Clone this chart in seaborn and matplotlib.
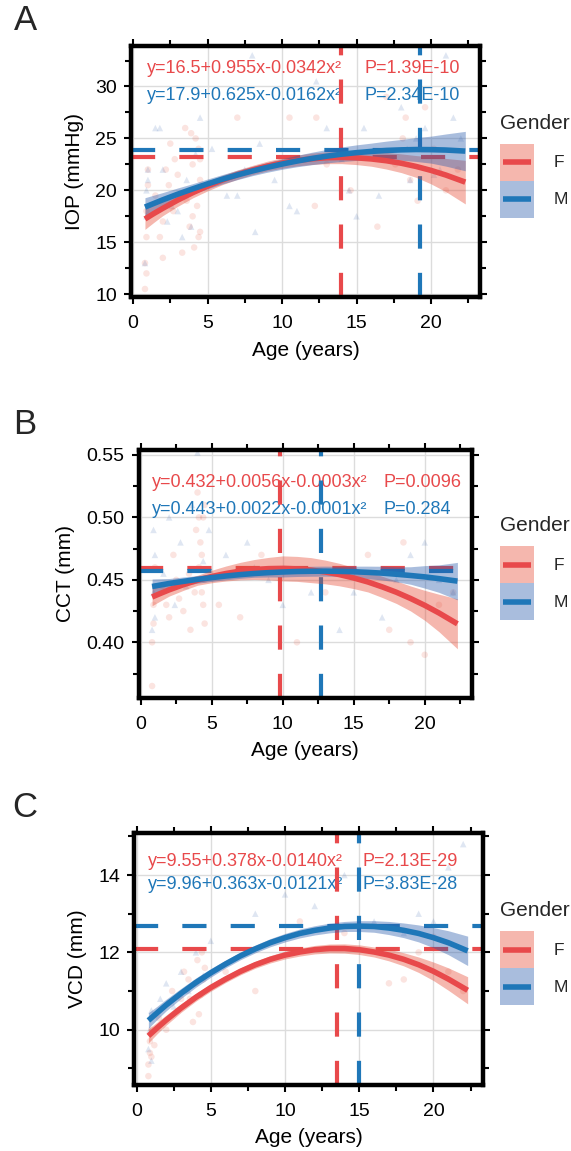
import numpy as np
import pandas as pd
import matplotlib
matplotlib.use("Agg")
import matplotlib.pyplot as plt
from matplotlib.ticker import AutoMinorLocator, MultipleLocator, FormatStrFormatter
from matplotlib.patches import Patch, Rectangle
from matplotlib.lines import Line2D
from matplotlib.legend_handler import HandlerBase
import seaborn as sns

# ---- data ----
genders = ["F", "M"]

# panel A: IOP
A_F_age = [0.8, 0.8, 0.9, 0.9, 1.0, 1.0, 0.9, 1.5, 1.8, 2.0, 2.2, 2.5, 2.7, 3.0, 3.2, 3.5, 3.8,
           4.0, 4.1, 4.2, 4.3, 4.4, 4.5, 4.5, 2.0, 2.4, 2.8, 3.3, 3.6, 4.0, 4.2, 4.4, 4.5, 3.9,
           7.0, 9.5, 10.5, 12.3, 12.2, 13.0, 14.6,
           16.4, 17.0, 17.6, 18.1, 18.3, 18.6, 19.1, 19.6, 20.2, 21.0, 21.8]
A_F_iop = [10.5, 13.0, 15.5, 18.0, 20.5, 22.0, 12.0, 19.5, 15.5, 13.5, 22.0, 24.5, 18.0, 21.5, 19.5, 26.0, 16.5,
           22.5, 14.5, 25.0, 18.5, 15.5, 21.0, 23.0, 17.0, 20.5, 23.0, 14.0, 19.0, 17.5, 20.0, 24.0, 16.0, 25.5,
           27.0, 22.5, 27.0, 27.0, 18.5, 22.5, 20.0,
           16.5, 29.0, 22.5, 25.0, 27.0, 21.0, 19.0, 28.0, 24.0, 20.0, 22.0]
A_M_age = [0.8, 0.9, 0.9, 1.0, 1.0, 1.5, 1.8, 2.0, 2.3, 2.6, 3.0, 3.3, 3.6, 3.9, 4.2, 4.5,
           5.3, 5.8, 6.3, 7.0, 7.5, 8.0, 8.2, 8.5, 9.5, 10.5, 11.0,
           12.3, 13.0, 14.0, 14.5, 15.0, 15.5, 16.5, 17.5, 18.0, 18.4, 18.6, 19.0, 19.6, 20.2, 20.6, 21.0, 21.5, 22.0]
A_M_iop = [13.0, 17.5, 20.0, 22.0, 21.0, 26.0, 26.0, 22.0, 17.0, 18.5, 18.0, 15.5, 21.0, 16.5, 23.5, 27.0,
           24.0, 21.0, 19.5, 19.5, 22.0, 33.0, 16.0, 24.5, 21.0, 18.5, 18.0,
           30.5, 26.0, 23.0, 20.0, 17.5, 26.0, 19.5, 22.8, 28.0, 24.0, 21.0, 25.0, 26.0, 21.5, 22.0, 33.0, 27.0, 25.0]

# panel B: CCT
B_F_age = [0.8, 0.8, 0.9, 0.9, 1.0, 1.0, 1.5, 2.0, 2.3, 2.7, 3.0, 3.4, 3.8, 4.0, 4.1, 4.2, 4.3, 4.4, 4.5, 4.5,
           3.9, 4.1, 4.3, 4.4, 4.5, 3.5, 2.5, 1.8,
           5.5, 7.0, 8.5, 11.0, 13.0, 14.0, 16.0, 17.5, 18.5, 19.0, 20.0, 21.0, 22.0]
B_F_cct = [0.365, 0.400, 0.415, 0.430, 0.445, 0.460, 0.445, 0.420, 0.470, 0.435, 0.425, 0.455, 0.440,
           0.520, 0.500, 0.480, 0.470, 0.430, 0.415, 0.510,
           0.490, 0.460, 0.440, 0.500, 0.450, 0.410, 0.450, 0.430,
           0.430, 0.420, 0.470, 0.400, 0.440, 0.455, 0.470, 0.410, 0.480, 0.400, 0.390, 0.430, 0.440]
B_M_age = [0.8, 0.9, 0.9, 1.0, 1.0, 1.6, 2.0, 2.4, 2.8, 3.2, 3.6, 4.0, 4.4, 4.8,
           6.0, 7.5, 8.0, 9.0, 10.0, 12.0, 14.0, 15.0, 17.0, 18.0, 19.0, 20.0, 21.0, 22.0]
B_M_cct = [0.410, 0.440, 0.490, 0.420, 0.470, 0.455, 0.500, 0.430, 0.480, 0.445, 0.510, 0.552, 0.465, 0.490,
           0.470, 0.480, 0.460, 0.450, 0.430, 0.440, 0.410, 0.440, 0.420, 0.450, 0.470, 0.480, 0.450, 0.440]

# panel C: VCD
C_F_age = [0.8, 0.8, 0.9, 0.9, 1.0, 1.0, 1.5, 2.0, 2.4, 2.8, 3.2, 3.6, 4.0, 4.2, 4.4, 4.6,
           3.0, 3.5, 3.8, 4.1, 4.3, 4.5, 2.2, 1.2,
           6.0, 8.0, 11.0, 14.0, 17.0, 18.0, 19.0, 20.0, 21.0, 22.0]
C_F_vcd = [8.8, 9.1, 9.4, 9.7, 10.0, 9.3, 10.3, 10.0, 11.0, 10.5, 11.5, 10.8, 11.2, 10.4, 12.0, 11.6,
           10.8, 11.3, 10.2, 11.8, 10.9, 11.3, 10.7, 9.6,
           11.5, 11.0, 12.8, 12.5, 11.2, 11.3, 12.0, 12.4, 11.5, 11.0]
C_M_age = [0.8, 0.9, 1.0, 1.0, 1.6, 2.0, 2.5, 3.0, 3.5, 4.0, 4.5, 5.0,
           8.0, 10.0, 12.0, 14.0, 16.0, 17.0, 18.0, 19.0, 20.0, 21.0, 22.0]
C_M_vcd = [9.5, 10.0, 10.5, 9.2, 10.8, 11.2, 10.6, 11.5, 11.0, 12.0, 11.4, 12.3,
           13.0, 13.5, 13.2, 14.0, 12.8, 13.7, 12.5, 13.0, 12.8, 14.2, 14.8]

# fitted quadratic curves (read at these ages) and half width of the band
fit_age = [0.8, 1.4, 2, 3, 4, 5, 6, 7, 8, 9, 10, 11, 12, 13, 14, 15, 16, 17, 18, 19, 20, 21, 22.3]
A_F_fit = [17.24, 17.77, 18.27, 19.06, 19.77, 20.42, 21.00, 21.51, 21.95, 22.33, 22.63, 22.87,
           23.04, 23.14, 23.17, 23.13, 23.02, 22.85, 22.61, 22.30, 21.92, 21.47, 20.79]
A_F_ci = [1.0, 0.85, 0.7, 0.6, 0.5, 0.47, 0.45, 0.45, 0.45, 0.47, 0.5, 0.52,
          0.55, 0.57, 0.6, 0.65, 0.7, 0.8, 0.9, 1.05, 1.3, 1.6, 2.1]
A_M_fit = [18.39, 18.74, 19.09, 19.63, 20.14, 20.62, 21.07, 21.48, 21.86, 22.21, 22.53, 22.82,
           23.07, 23.29, 23.48, 23.63, 23.75, 23.84, 23.90, 23.93, 23.92, 23.88, 23.78]
A_M_ci = [0.9, 0.8, 0.7, 0.6, 0.5, 0.47, 0.45, 0.45, 0.45, 0.47, 0.5, 0.55,
          0.6, 0.65, 0.7, 0.75, 0.8, 0.9, 1.0, 1.15, 1.3, 1.55, 1.9]
B_F_fit = [0.4363, 0.4392, 0.4420, 0.4461, 0.4497, 0.4527, 0.4551, 0.4570, 0.4583, 0.4590, 0.4592, 0.4588,
           0.4578, 0.4563, 0.4542, 0.4515, 0.4483, 0.4444, 0.4401, 0.4351, 0.4296, 0.4235, 0.4148]
B_F_ci = [0.007, 0.006, 0.005, 0.0045, 0.004, 0.005, 0.006, 0.007, 0.008, 0.009, 0.010, 0.010,
          0.010, 0.0095, 0.009, 0.0085, 0.008, 0.0085, 0.009, 0.010, 0.012, 0.015, 0.020]
B_M_fit = [0.4447, 0.4459, 0.4471, 0.4488, 0.4504, 0.4518, 0.4531, 0.4542, 0.4551, 0.4558, 0.4563, 0.4567,
           0.4569, 0.4570, 0.4568, 0.4565, 0.4560, 0.4554, 0.4545, 0.4535, 0.4524, 0.4510, 0.4490]
B_M_ci = [0.006, 0.005, 0.004, 0.0035, 0.003, 0.003, 0.003, 0.003, 0.003, 0.0035, 0.004, 0.004,
          0.004, 0.004, 0.004, 0.0045, 0.005, 0.0055, 0.006, 0.007, 0.009, 0.011, 0.015]
C_F_fit = [9.84, 10.05, 10.25, 10.56, 10.84, 11.09, 11.31, 11.51, 11.68, 11.82, 11.93, 12.01,
           12.07, 12.10, 12.10, 12.07, 12.01, 11.93, 11.82, 11.68, 11.51, 11.31, 11.02]
C_F_ci = [0.18, 0.15, 0.13, 0.11, 0.1, 0.095, 0.09, 0.09, 0.09, 0.095, 0.1, 0.105,
          0.11, 0.115, 0.12, 0.125, 0.13, 0.15, 0.17, 0.2, 0.24, 0.29, 0.35]
C_M_fit = [10.24, 10.44, 10.64, 10.94, 11.22, 11.47, 11.70, 11.91, 12.09, 12.25, 12.38, 12.49,
           12.57, 12.63, 12.67, 12.68, 12.67, 12.63, 12.57, 12.49, 12.38, 12.25, 12.04]
C_M_ci = [0.2, 0.17, 0.15, 0.13, 0.12, 0.11, 0.1, 0.1, 0.1, 0.105, 0.11, 0.115,
          0.12, 0.125, 0.13, 0.14, 0.15, 0.17, 0.19, 0.22, 0.26, 0.31, 0.38]

# peak of each curve (dashed guide lines)
A_peak_age = [13.96, 19.29]
A_peak_val = [23.17, 23.93]
B_peak_age = [9.8, 12.7]
B_peak_val = [0.4595, 0.4572]
C_peak_age = [13.5, 15.0]
C_peak_val = [12.10, 12.68]

A_eq = ["y=16.5+0.955x-0.0342x²", "y=17.9+0.625x-0.0162x²"]
A_p = ["P=1.39E-10", "P=2.34E-10"]
B_eq = ["y=0.432+0.0056x-0.0003x²", "y=0.443+0.0022x-0.0001x²"]
B_p = ["P=0.0096", "P=0.284"]
C_eq = ["y=9.55+0.378x-0.0140x²", "y=9.96+0.363x-0.0121x²"]
C_p = ["P=2.13E-29", "P=3.83E-28"]

# ---- styling ----
line_col = {"F": "#E8494B", "M": "#1F77B8"}
band_col = {"F": "#E64B35", "M": "#2A5CAC"}

sns.set_theme(style="white")
plt.rcParams["font.family"] = ["Liberation Sans", "DejaVu Sans"]

W, H = 571, 1151
fig = plt.figure(figsize=(W / 100, H / 100), dpi=100)


class KeyHandler(HandlerBase):
    # ggplot-like key: filled box with the line centred on it
    def create_artists(self, legend, orig_handle, xdescent, ydescent, width, height,
                       fontsize, trans):
        rect = Rectangle((-xdescent, -ydescent), width, height,
                         facecolor=orig_handle.get_facecolor(), edgecolor="none",
                         transform=trans)
        yc = -ydescent + height / 2
        line = Line2D([-xdescent + 0.1 * width, -xdescent + 0.9 * width], [yc, yc],
                      color=orig_handle.get_edgecolor(), lw=4, solid_capstyle="butt",
                      transform=trans)
        return [rect, line]


def px_axes(l, t, r, b):
    return fig.add_axes([l / W, 1 - b / H, (r - l) / W, (b - t) / H])


def draw_panel(ax, fa, fv, ma, mv, ffit, fci, mfit, mci, peak_age, peak_val,
               eqs, ps, ylim, ylabel, yfmt, eq_x, p_x, eq_y, labelpad):
    pts = pd.concat([
        pd.DataFrame({"Age": fa, "val": fv, "Gender": "F"}),
        pd.DataFrame({"Age": ma, "val": mv, "Gender": "M"}),
    ])
    sns.scatterplot(data=pts, x="Age", y="val", hue="Gender", style="Gender",
                    markers={"F": "o", "M": "^"}, palette=band_col, alpha=0.15,
                    s=22, linewidth=0, legend=False, ax=ax, zorder=1)

    for i, g in enumerate(genders):
        ax.axhline(peak_val[i], color=line_col[g], lw=3.0, ls=(0, (5.8, 5.8)),
                   dash_capstyle="butt", zorder=2)
        ax.axvline(peak_age[i], color=line_col[g], lw=3.0, ls=(0, (5.8, 5.8)),
                   dash_capstyle="butt", zorder=2)

    for g, fit, ci in [("F", ffit, fci), ("M", mfit, mci)]:
        fit = np.array(fit)
        ci = np.array(ci)
        ax.fill_between(fit_age, fit - ci, fit + ci, color=band_col[g], alpha=0.4,
                        lw=0, zorder=3)
    fits = pd.concat([
        pd.DataFrame({"Age": fit_age, "val": ffit, "Gender": "F"}),
        pd.DataFrame({"Age": fit_age, "val": mfit, "Gender": "M"}),
    ])
    sns.lineplot(data=fits, x="Age", y="val", hue="Gender", palette=line_col,
                 lw=4, legend=False, ax=ax, zorder=4, solid_capstyle="butt")

    for i, g in enumerate(genders):
        ax.text(eq_x, eq_y[i], eqs[i], color=line_col[g], fontsize=13,
                transform=ax.transAxes, va="center", ha="left", zorder=1.5)
        ax.text(p_x, eq_y[i], ps[i], color=line_col[g], fontsize=13,
                transform=ax.transAxes, va="center", ha="left", zorder=1.5)

    ax.set_xlim(-0.15, 23.3)
    ax.set_ylim(*ylim)
    ax.xaxis.set_major_locator(MultipleLocator(5))
    ax.xaxis.set_minor_locator(AutoMinorLocator(2))
    if yfmt:
        ax.yaxis.set_major_formatter(FormatStrFormatter(yfmt))
    ax.grid(True, which="major", color="#DCDCDC", lw=1.0)
    ax.set_axisbelow(True)
    for sp in ax.spines.values():
        sp.set_visible(True)
        sp.set_color("black")
        sp.set_linewidth(3.2)
        sp.set_zorder(10)
    ax.tick_params(which="both", direction="out", bottom=True, left=True, top=True, right=True,
                   labeltop=False, labelright=False, color="black", width=1.5)
    ax.tick_params(which="major", length=5, labelsize=14, labelcolor="black")
    ax.tick_params(axis="x", which="major", pad=8)
    ax.tick_params(axis="y", which="major", pad=5)
    ax.tick_params(which="minor", length=4)
    ax.set_xlabel("Age (years)", fontsize=15, color="black", labelpad=6)
    ax.set_ylabel(ylabel, fontsize=15, color="black", labelpad=labelpad)


axA = px_axes(130.8, 46, 480.2, 297.3)
draw_panel(axA, A_F_age, A_F_iop, A_M_age, A_M_iop, A_F_fit, A_F_ci, A_M_fit, A_M_ci,
           A_peak_age, A_peak_val, A_eq, A_p, (9.7, 33.9), "IOP (mmHg)", None,
           0.045, 0.67, [0.912, 0.805], 8)
axA.yaxis.set_major_locator(MultipleLocator(5))
axA.yaxis.set_minor_locator(AutoMinorLocator(2))

axB = px_axes(138.6, 450, 471.6, 698)
draw_panel(axB, B_F_age, B_F_cct, B_M_age, B_M_cct, B_F_fit, B_F_ci, B_M_fit, B_M_ci,
           B_peak_age, B_peak_val, B_eq, B_p, (0.3554, 0.554), "CCT (mm)", "%.2f",
           0.039, 0.734, [0.867, 0.762], 8)
axB.yaxis.set_major_locator(MultipleLocator(0.05))
axB.yaxis.set_minor_locator(AutoMinorLocator(2))

axC = px_axes(134.3, 833.3, 482.5, 1085)
draw_panel(axC, C_F_age, C_F_vcd, C_M_age, C_M_vcd, C_F_fit, C_F_ci, C_M_fit, C_M_ci,
           C_peak_age, C_peak_val, C_eq, C_p, (8.57, 15.08), "VCD (mm)", None,
           0.039, 0.654, [0.887, 0.795], 8)
axC.yaxis.set_major_locator(MultipleLocator(2))
axC.yaxis.set_minor_locator(AutoMinorLocator(2))

# legends and panel letters
band_rgba = {"F": (230 / 255, 75 / 255, 53 / 255, 0.4), "M": (42 / 255, 92 / 255, 172 / 255, 0.4)}
handles = [Patch(facecolor=band_rgba[g], edgecolor=line_col[g]) for g in genders]
for ax, letter in [(axA, "A"), (axB, "B"), (axC, "C")]:
    pos = ax.get_position()
    yc = (pos.y0 + pos.y1) / 2 + 6 / H
    leg = fig.legend(handles, genders, title="Gender", loc="center left",
                     bbox_to_anchor=(491 / W, yc), frameon=False, borderpad=0,
                     fontsize=12.5, title_fontsize=15, handlelength=2.0,
                     handleheight=2.9, labelspacing=0, handletextpad=1.1,
                     alignment="left", handler_map={Patch: KeyHandler()})
    leg._legend_box.sep = 8
    fig.text(25 / W, pos.y1 + 26 / H, letter, fontsize=25, ha="center", va="center")

fig.savefig("out.png", dpi=100)
